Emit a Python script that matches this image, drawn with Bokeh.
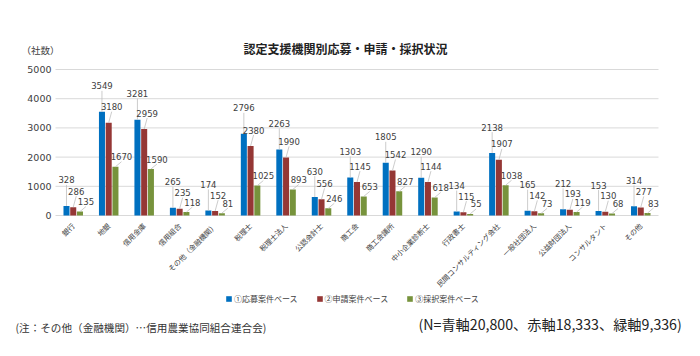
import math
from bokeh.plotting import figure
from bokeh.models import (FactorRange, Range1d, Legend, LegendItem, Label,
                          ColumnDataSource, FixedTicker)
from bokeh.transform import dodge
from bokeh.core.properties import value
from bokeh.embed import file_html
from bokeh.resources import INLINE

categories = ["銀行", "地銀", "信用金庫", "信用組合", "その他（金融機関）", "税理士",
              "税理士法人", "公認会計士", "商工会", "商工会議所", "中小企業診断士",
              "行政書士", "民間コンサルティング会社", "一般社団法人", "公益財団法人",
              "コンサルタント", "その他"]
oubo = [328, 3549, 3281, 265, 174, 2796, 2263, 630, 1303, 1805, 1290, 134, 2138, 165, 212, 153, 314]
shinsei = [286, 3180, 2959, 235, 152, 2380, 1990, 556, 1145, 1542, 1144, 115, 1907, 142, 193, 130, 277]
saitaku = [135, 1670, 1590, 118, 81, 1025, 893, 246, 653, 827, 618, 55, 1038, 73, 119, 68, 83]
series_names = ["①応募案件ベース", "②申請案件ベース", "③採択案件ベース"]
y_ticks = [0, 1000, 2000, 3000, 4000, 5000]

title_text = "認定支援機関別応募・申請・採択状況"
unit_text = "（社数）"
note_left = "(注：その他（金融機関）…信用農業協同組合連合会)"
note_right = "(N=青軸20,800、赤軸18,333、緑軸9,336)"

colors = ["#0070C0", "#953735", "#77933C"]
W, H = 700, 356
# plot-area pixel box (as in the reference)
PL, PR, PT, PB = 55, 658, 69, 215
CANVAS_LEFT = 13                     # frame starts here, ends at W
YMAX = 5000
NCAT = len(categories)
KY = YMAX / (PB - PT)                # data units per px (y)
KX = NCAT / (PR - PL)                # factor units per px (x)

def X(px):
    return (px - PL) * KX

def Y(py):
    return (PB - py) * KY

JP = "Noto Sans CJK JP"
NUM = "DejaVu Sans"

pad_px = PL - CANVAS_LEFT            # equals W - PR
x_range = FactorRange(factors=categories, range_padding=2 * pad_px / (PR - PL),
                      range_padding_units="percent")
y_range = Range1d(Y(H), Y(0))

p = figure(x_range=x_range, y_range=y_range, width=W, height=H,
           output_backend="svg", toolbar_location=None,
           min_border_left=CANVAS_LEFT, min_border_right=0, min_border_top=0,
           min_border_bottom=0)
p.outline_line_color = None
p.background_fill_color = "white"
p.border_fill_color = "white"

src = ColumnDataSource(dict(cat=categories, a=oubo, b=shinsei, c=saitaku))
offsets = [-0.19, 0.0, 0.19]
cols = ["a", "b", "c"]
lab_off = [(0, 26), (3, 16), (6, 10)]   # label offsets in px (dx, dy above bar top)

# horizontal grid lines across the plot area only
p.segment(x0=[0] * len(y_ticks), y0=y_ticks, x1=[NCAT] * len(y_ticks), y1=y_ticks,
          line_color="#D9D9D9", line_width=1)

renderers = []
for i, (col, off, color) in enumerate(zip(cols, offsets, colors)):
    r = p.vbar(x=dodge("cat", off, range=p.x_range), top=col, width=0.17,
               source=src, fill_color=color, line_color=None)
    renderers.append(r)
    vals = src.data[col]
    dx, dy = lab_off[i]
    xb = [j + 0.5 + off for j in range(NCAT)]
    xl = [x + dx * KX for x in xb]
    yl = [v + dy * KY for v in vals]
    yseg = [v + (dy - 5) * KY for v in vals]
    p.segment(x0=xb, y0=vals, x1=xl, y1=yseg, line_color="#BFBFBF", line_width=0.8)
    p.text(x=xl, y=yl, text=[str(v) for v in vals], text_font=value(NUM),
           text_font_size="8.5px", text_color="#404040", text_align="center",
           text_baseline="middle")

p.xgrid.grid_line_color = None
p.ygrid.grid_line_color = None

p.yaxis.fixed_location = 0
p.yaxis.ticker = FixedTicker(ticks=y_ticks)
p.yaxis.axis_line_color = None
p.yaxis.major_tick_line_color = None
p.yaxis.minor_tick_line_color = None
p.yaxis.major_tick_out = 0
p.yaxis.major_tick_in = 0
p.yaxis.major_label_text_font = NUM
p.yaxis.major_label_text_font_size = "9.5px"
p.yaxis.major_label_text_color = "#404040"
p.yaxis.major_label_standoff = 4

p.xaxis.fixed_location = 0
p.xaxis.axis_line_color = None
p.xaxis.major_tick_line_color = None
p.xaxis.minor_tick_line_color = None
p.xaxis.major_tick_out = 0
p.xaxis.major_tick_in = 0
p.xaxis.major_label_orientation = math.pi / 4
p.xaxis.major_label_text_font = JP
p.xaxis.major_label_text_font_size = "7.2px"
p.xaxis.major_label_text_color = "#404040"
p.xaxis.major_label_standoff = 9

p.add_layout(Label(x=X(345), y=Y(48), text=title_text, text_font=JP,
                   text_font_size="12px", text_font_style="bold",
                   text_color="#222222", text_align="center", text_baseline="middle"))
p.add_layout(Label(x=X(21), y=Y(49), text=unit_text, text_font=JP,
                   text_font_size="9.5px", text_color="#404040",
                   text_align="left", text_baseline="middle"))
p.add_layout(Label(x=X(15), y=Y(327), text=note_left, text_font=JP,
                   text_font_size="10.6px", text_color="#333333",
                   text_align="left", text_baseline="middle"))
p.add_layout(Label(x=X(418), y=Y(323), text=note_right, text_font=JP,
                   text_font_size="14.2px", text_color="#222222",
                   text_align="left", text_baseline="middle"))

legend = Legend(items=[LegendItem(label=n, renderers=[r]) for n, r in zip(series_names, renderers)],
                orientation="horizontal", location=(225 - CANVAS_LEFT, H - 304),
                label_text_font=JP, label_text_font_size="8px",
                label_text_color="#404040", glyph_width=7, glyph_height=7,
                label_standoff=2, spacing=18, padding=0, margin=0,
                border_line_color=None, background_fill_alpha=0)
p.add_layout(legend)

open("out.html", "w").write(file_html(p, INLINE))
